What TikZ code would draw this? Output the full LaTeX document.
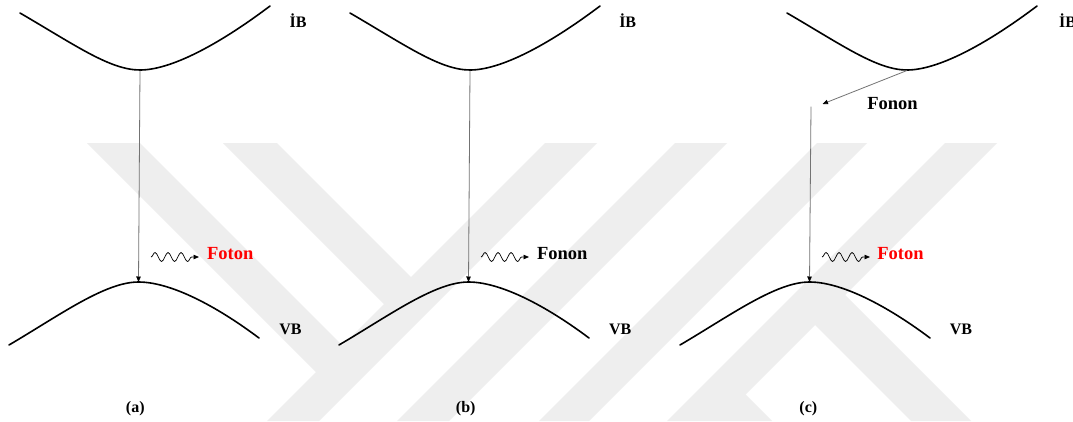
\documentclass[tikz,border=0pt]{standalone}
\usepackage{fontspec}
\setmainfont{Liberation Serif}
\usetikzlibrary{arrows.meta,decorations.pathmorphing}
\begin{document}
\begin{tikzpicture}[x=1pt,y=-1pt,
  wmark/.style={fill=gray!13,draw=none},
  band/.style={line width=1.6pt,line cap=round},
  trans/.style={draw=black!55,line width=0.8pt,-{Triangle[length=5.5pt,width=4.5pt,color=black]}},
  wave/.style={line width=0.75pt,decorate,
    decoration={snake,amplitude=4.5pt,segment length=13pt,post length=5pt},
    -{Triangle[length=5.5pt,width=4.5pt]}},
  lbl/.style={font=\fontsize{16}{18}\selectfont\bfseries,anchor=base,inner sep=0pt},
  qlbl/.style={font=\fontsize{18.5}{20}\selectfont\bfseries,anchor=base,inner sep=0pt}]

\useasboundingbox (0,0) rectangle (1073,421);
\fill[white] (0,0) rectangle (1073,421);

% light diagonal background pattern
\fill[wmark] (87,143)--(140,143)--(355.5,358.5)--(329,385)--cycle;
\fill[wmark] (223,143)--(277,143)--(424,290)--(397,317)--cycle;
\fill[wmark] (545,143)--(597,143)--(319,421)--(267,421)--cycle;
\fill[wmark] (675,143)--(727,143)--(449,421)--(397,421)--cycle;
\fill[wmark] (817,143)--(867,143)--(589,421)--(539,421)--cycle;
\fill[wmark] (945,143)--(997,143)--(719,421)--(667,421)--cycle;
\fill[wmark] (832,282)--(971,421)--(911,421)--(802,312)--cycle;
\fill[wmark] (732.5,381.5)--(772,421)--(719,421)--(706,408)--cycle;

% conduction band (upper) curves
\foreach \dx in {0,330,767}{
  \draw[band,shift={(\dx,0)}] (20,13) .. controls (75,45) and (110,70) .. (140,70)
        .. controls (170,70) and (217,46) .. (270,6);
}
% valence band (lower) curves
\foreach \dx in {0,330,671}{
  \draw[band,shift={(\dx,0)}] (9,345) .. controls (60,315) and (105,282) .. (138.5,282)
        .. controls (170,282) and (215,305) .. (259,338);
}

% band extrema
\coordinate (cbA) at (140,70.5);
\coordinate (cbB) at (470,70.5);
\coordinate (cbC) at (907,70.5);
\coordinate (vbA) at (138.5,282);
\coordinate (vbB) at (468.5,282);
\coordinate (vbC) at (809.5,282);
\coordinate (phTip) at (822.5,104);
\coordinate (vStart) at (811,106.5);

% transitions
\draw[trans] (cbA) -- (vbA);
\draw[trans] (cbB) -- (vbB);
\draw[trans] (cbC) -- (phTip);
\draw[trans] (vStart) -- (vbC);

% emitted quanta
\coordinate (wA0) at (151,257); \coordinate (wA1) at (199,257);
\coordinate (wB0) at (481,257); \coordinate (wB1) at (529,257);
\coordinate (wC0) at (822,257); \coordinate (wC1) at (870,257);
\draw[wave] (wA0) -- (wA1);
\draw[wave] (wB0) -- (wB1);
\draw[wave] (wC0) -- (wC1);

% labels
\node[lbl] (ibA) at (298,27.3) {İB};
\node[lbl] (ibB) at (627.7,27.3) {İB};
\node[lbl,anchor=base west] (ibC) at (1059,27.3) {İB};
\node[lbl] (vbAl) at (290.5,334.3) {VB};
\node[lbl] (vbBl) at (620.3,334.3) {VB};
\node[lbl] (vbCl) at (961,334.3) {VB};
\node[qlbl,text=red] (fA) at (230.3,259) {Foton};
\node[qlbl] (fB) at (562.2,259) {Fonon};
\node[qlbl,text=red] (fC) at (900.5,259) {Foton};
\node[qlbl] (fC2) at (892.5,109) {Fonon};
\node[lbl] (capA) at (135.3,412) {(a)};
\node[lbl] (capB) at (465.7,412) {(b)};
\node[lbl] (capC) at (808.3,412) {(c)};
\end{tikzpicture}
\end{document}
